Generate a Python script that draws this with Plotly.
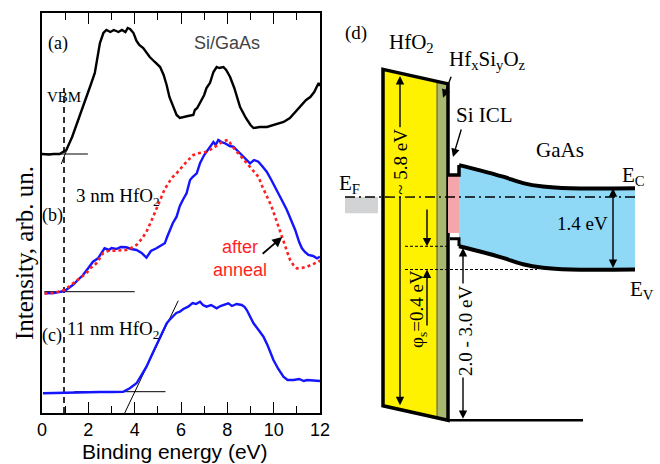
import plotly.graph_objects as go

# ---------------- data: panels (a)-(c) ----------------
energy_a = [0, 0.3, 0.5, 0.76, 0.9, 1.05, 1.3, 1.62, 1.91, 2.1, 2.28, 2.4, 2.5, 2.65, 2.78, 2.95, 3.1, 3.3,
            3.45, 3.6, 3.7, 3.8, 3.95, 4.08, 4.2, 4.37, 4.51, 4.65, 4.87, 5.1, 5.25, 5.38, 5.5, 5.66, 5.81,
            5.95, 6.1, 6.3, 6.53, 6.6, 6.7, 6.82, 7.0, 7.1, 7.25, 7.4, 7.54, 7.65, 7.83, 7.95, 8.12, 8.3,
            8.55, 8.8, 9.0, 9.13, 9.4, 9.71, 10.0, 10.2, 10.43, 10.7, 11.0, 11.2, 11.4, 11.58, 11.75, 11.94, 12.0]
intensity_a = [259, 258.5, 259, 259, 261, 263, 276, 296, 316, 328, 340, 355, 370, 380, 383, 381, 383, 381,
               383, 381, 385, 384, 380, 372, 368, 365, 360, 356, 351, 346, 338, 328, 316, 306, 298,
               295, 296, 297, 298, 303, 305, 310, 318, 325, 330, 341, 346, 345, 346, 343, 336, 325,
               306, 295, 288, 285, 286, 286, 288, 290, 291, 295, 303, 308, 313, 316, 321, 330, 327]

energy_b = [0.11, 0.5, 0.97, 1.15, 1.33, 1.55, 1.77, 2.0, 2.2, 2.42, 2.55, 2.7, 2.9, 3.0, 3.21, 3.4, 3.64,
            3.85, 4.08, 4.3, 4.51, 4.7, 4.94, 5.1, 5.3, 5.4, 5.52, 5.65, 5.81, 5.95, 6.1, 6.24, 6.39, 6.5,
            6.68, 6.82, 7.0, 7.1, 7.25, 7.4, 7.5, 7.61, 7.75, 7.9, 8.1, 8.26, 8.45, 8.62, 8.8, 8.98, 9.15,
            9.34, 9.5, 9.7, 9.9, 10.14, 10.35, 10.57, 10.75, 10.93, 11.1, 11.22, 11.35, 11.5, 11.7, 11.87, 12.0]
intensity_b = [119.7, 120, 122, 125, 128, 133, 138, 145, 151.3, 154.7, 160, 164.7, 163, 165, 164, 166, 165.7,
               164, 163, 160, 155.3, 162, 164.7, 167, 169.7, 176, 183, 190, 196.3, 207, 214, 219.7, 233, 236,
               239.7, 249.7, 258, 261, 266.3, 271, 268, 273, 271, 269.7, 267, 266.3, 262, 258, 253, 249.7, 253,
               251.3, 247, 241.3, 233, 223, 213, 203, 193, 183, 171, 164.7, 161, 158, 157, 154.7, 156.3]

energy_b_anneal = [0.11, 0.5, 0.97, 1.2, 1.48, 1.7, 1.91, 2.1, 2.35, 2.5, 2.63, 2.85, 3.06, 3.3, 3.64, 3.85,
                   4.08, 4.3, 4.51, 4.7, 4.87, 5.0, 5.16, 5.3, 5.45, 5.6, 5.81, 6.0, 6.24, 6.53, 6.8, 7.1, 7.4,
                   7.68, 7.85, 8.04, 8.2, 8.41, 8.6, 8.84, 9.1, 9.34, 9.5, 9.7, 9.9, 10.06, 10.25, 10.43, 10.6,
                   10.71, 10.85, 11.0, 11.2, 11.44, 11.7, 11.94, 12.0]
intensity_b_anneal = [119.5, 120, 123, 127, 131.3, 136, 139.7, 145, 149.7, 155, 159.7, 162, 162.3, 163, 163, 165,
                      168, 174, 181.3, 191, 199.7, 208, 216.3, 224, 229.7, 235, 239.7, 245, 251.3, 258, 260, 261.3,
                      265, 269.7, 272, 273, 267, 261.3, 256, 249.7, 243, 236.3, 227, 216.3, 207, 196.3, 183, 169.7,
                      160, 153, 148, 144.7, 145, 146.3, 149, 151.3, 153]

energy_c = [0.04, 0.5, 1.0, 1.5, 2.0, 2.5, 3.0, 3.5, 3.79, 3.95, 4.08, 4.3, 4.51, 4.7, 4.94, 5.15, 5.38, 5.5,
            5.66, 5.8, 5.95, 6.1, 6.31, 6.5, 6.65, 6.82, 6.95, 7.1, 7.3, 7.54, 7.7, 7.85, 8.04, 8.2, 8.4, 8.62,
            8.75, 8.84, 9.0, 9.13, 9.35, 9.56, 9.75, 9.99, 10.2, 10.42, 10.6, 10.86, 11.1, 11.3, 11.44, 11.7,
            11.94, 12.0]
intensity_c = [19.7, 20, 20.5, 20.5, 21, 21, 21, 21.3, 24.7, 27, 29.7, 38, 46.3, 56, 68, 79, 89.7, 93,
               96.3, 100, 101.3, 104, 106.3, 110, 109, 111.3, 108, 106.3, 108, 104.7, 107, 108, 109.7, 107, 109, 108,
               106, 103, 96, 89.7, 83, 76.3, 67, 53, 44, 36.3, 33, 33, 34, 32, 33, 32.5, 32, 32]

# extrapolation / baseline lines
base_a_x, base_a_y = [0, 1.98], [259, 259]
slope_a_x, slope_a_y = [0.83, 1.6], [249, 294]
base_b_x, base_b_y = [0.1, 4.0], [121.3, 121.3]
base_c_x, base_c_y = [1.4, 5.33], [21.3, 21.3]
slope_c_x, slope_c_y = [3.57, 5.88], [0, 112.3]
vbm_x, vbm_y = [0.95, 0.95], [0, 325]

x_ticks = [0, 2, 4, 6, 8, 10, 12]

# ---------------- data: band diagram (d), energies in eV vs E_F ----------------
hfo2_gap = 5.8
hfo2_cb = [2.2, 1.95]          # HfO2 CB at left / right edge
gaas_gap = 1.4
phi_s = 0.4
ec_bulk = 0.15                  # E_C - E_F in bulk GaAs
si_icl_cb, si_icl_vb = 0.38, -0.62
gaas_x = [129, 150, 173, 193, 213, 240, 305]
gaas_bend = [0.40, 0.31, 0.20, 0.09, 0.03, 0.0, 0.0]

SERIF = "Liberation Serif, Times New Roman, serif"
SANS = "Liberation Sans, Arial, sans-serif"
BLUE = "#1414ff"
RED = "#ff1f1f"

fig = go.Figure()

# ---- left panel traces
thin = dict(color="black", width=1)
fig.add_trace(go.Scatter(x=base_a_x, y=base_a_y, mode="lines", line=thin, xaxis="x", yaxis="y"))
fig.add_trace(go.Scatter(x=slope_a_x, y=slope_a_y, mode="lines", line=thin))
fig.add_trace(go.Scatter(x=base_b_x, y=base_b_y, mode="lines", line=thin))
fig.add_trace(go.Scatter(x=base_c_x, y=base_c_y, mode="lines", line=thin))
fig.add_trace(go.Scatter(x=slope_c_x, y=slope_c_y, mode="lines", line=thin))
fig.add_trace(go.Scatter(x=vbm_x, y=vbm_y, mode="lines", line=dict(color="black", width=1.6, dash="6px,4px")))
fig.add_trace(go.Scatter(x=energy_a, y=intensity_a, mode="lines", line=dict(color="black", width=2.4)))
fig.add_trace(go.Scatter(x=energy_b, y=intensity_b, mode="lines", line=dict(color=BLUE, width=2.4)))
fig.add_trace(go.Scatter(x=energy_b_anneal, y=intensity_b_anneal, mode="lines",
                         line=dict(color=RED, width=2.6, dash="dot")))
fig.add_trace(go.Scatter(x=energy_c, y=intensity_c, mode="lines", line=dict(color=BLUE, width=2.4)))

# ---- band diagram: GaAs bands
gaas_cb = [ec_bulk + b for b in gaas_bend]
gaas_vb = [e - gaas_gap for e in gaas_cb]
fig.add_trace(go.Scatter(x=gaas_x, y=gaas_vb, mode="lines", line=dict(color="black", width=4, shape="spline"),
                         xaxis="x2", yaxis="y2"))
fig.add_trace(go.Scatter(x=gaas_x, y=gaas_cb, mode="lines", line=dict(color="black", width=4, shape="spline"),
                         fill="tonexty", fillcolor="#8fd8f6", xaxis="x2", yaxis="y2"))

# ---- band diagram shapes
x_l, x_m, x_r = 53, 107, 118
cb_l, cb_r = hfo2_cb
vb_l, vb_r = cb_l - hfo2_gap, cb_r - hfo2_gap
frac = (x_m - x_l) / (x_r - x_l)
cb_m = cb_l + (cb_r - cb_l) * frac
vb_m = vb_l + (vb_r - vb_l) * frac
S = dict(xref="x2", yref="y2", layer="above")
shapes = [
    dict(type="path", path=f"M {x_l},{vb_l} L {x_l},{cb_l} L {x_r},{cb_r} L {x_r},{vb_r} Z",
         fillcolor="#fff200", line=dict(width=0), **S),
    dict(type="path", path=f"M {x_m},{vb_m} L {x_m},{cb_m} L {x_r},{cb_r} L {x_r},{vb_r} Z",
         fillcolor="#a9b86f", line=dict(width=0), **S),
    dict(type="line", x0=x_m, x1=x_m, y0=vb_m, y1=cb_m, line=dict(color="#555", width=1), **S),
    dict(type="path", path=f"M {x_l},{vb_l} L {x_l},{cb_l} L {x_r},{cb_r} L {x_r},{vb_r} Z",
         line=dict(color="black", width=3.5), **S),
    dict(type="rect", x0=x_r, x1=gaas_x[0], y0=si_icl_vb, y1=si_icl_cb, fillcolor="#f5a6aa",
         line=dict(width=0), **S),
    dict(type="path", path=f"M {x_r},{si_icl_cb} L {gaas_x[0]},{si_icl_cb} L {gaas_x[0]},{gaas_cb[0]}",
         line=dict(color="black", width=3.5), **S),
    dict(type="path", path=f"M {x_r + 2},{si_icl_vb - 0.1} L {gaas_x[0]},{si_icl_vb - 0.1} L {gaas_x[0]},{gaas_vb[0]}",
         line=dict(color="black", width=3), **S),
    dict(type="line", x0=x_r, x1=253, y0=vb_r, y1=vb_r, line=dict(color="black", width=2.5), **S),
    dict(type="line", x0=75, x1=x_r, y0=gaas_vb[0], y1=gaas_vb[0], line=dict(color="black", width=1, dash="3px,2px"), **S),
    dict(type="line", x0=75, x1=207, y0=gaas_vb[-1], y1=gaas_vb[-1], line=dict(color="black", width=1, dash="3px,2px"), **S),
    dict(type="rect", x0=15, x1=48, y0=-0.28, y1=0, fillcolor="#d2d3d5", line=dict(width=0), **S),
    dict(type="line", x0=15, x1=305, y0=0, y1=0, line=dict(color="black", width=1.4, dash="10px,4px,2px,4px"), **S),
]

ann = []
def arrow(x, y, ax, ay, ref=("x2", "y2"), both=False, w=1.4, head=2, size=1.2):
    ann.append(dict(x=x, y=y, ax=ax, ay=ay, xref=ref[0], yref=ref[1], axref=ref[0], ayref=ref[1],
                    text="", showarrow=True, arrowhead=head, arrowsize=size, arrowwidth=w, arrowcolor="black",
                    arrowside="end+start" if both else "end", startarrowhead=head, startarrowsize=size))

def text(x, y, t, size, font=SERIF, color="black", ref=("x2", "y2"), angle=0, bg=None):
    d = dict(x=x, y=y, xref=ref[0], yref=ref[1], text=t, showarrow=False, textangle=angle,
             xanchor="center", yanchor="middle", font=dict(family=font, size=size, color=color))
    if bg:
        d.update(bgcolor=bg, borderpad=1)
    ann.append(d)

# band diagram arrows
arrow(70, cb_l + (cb_r - cb_l) * (17 / 65) - 0.05, 70, vb_l + (vb_r - vb_l) * (17 / 65) + 0.05, both=True)
arrow(97, gaas_vb[0], 97, -0.19)
arrow(97, gaas_vb[-1], 97, -2.24)
arrow(133, gaas_vb[0] - 0.03, 133, vb_r, both=True)
arrow(283, ec_bulk, 283, ec_bulk - gaas_gap, both=True)
arrow(113, 1.71, 121.7, 2.10)
arrow(123, 0.69, 131.7, 1.19)

text(70.5, 0.60, "~ 5.8 eV", 19, angle=-90, bg="#fff200")
text(136, -2.31, "2.0 - 3.0 eV", 19, angle=-90, bg="white")
text(88, -1.93, "φ<sub>s</sub>=0.4 eV", 19, angle=-90)
text(252, -0.45, "1.4 eV", 19)
text(26, 2.83, "(d)", 19)
text(81, 2.66, "HfO<sub>2</sub>", 21)
text(157, 2.36, "Hf<sub>x</sub>Si<sub>y</sub>O<sub>z</sub>", 21)
text(154, 1.41, "Si ICL", 21)
text(230, 0.81, "GaAs", 21)
text(303, 0.36, "E<sub>C</sub>", 21)
text(19, 0.22, "E<sub>F</sub>", 21)
text(312, -1.61, "E<sub>V</sub>", 21)

# left panel texts
L = ("x", "y")
text(0.67, 370, "(a)", 18, ref=L)
text(7.99, 370, "Si/GaAs", 18, font=SANS, color="#444444", ref=L)
text(0.97, 316, "VBM", 15, ref=L)
text(3.3, 216, "3 nm HfO<sub>2</sub>", 19, ref=L)
text(0.45, 198, "(b)", 18, ref=L)
text(8.55, 155, "after<br>anneal", 18, font=SANS, color=RED, ref=L)
text(0.45, 78, "(c)", 18, ref=L)
text(3.1, 83, "11 nm HfO<sub>2</sub>", 19, ref=L)
arrow(10.37, 176, 9.46, 158, ref=L, w=1.8, size=1.1)

text(25 / 660, 1 - 253 / 464, "Intensity, arb. un.", 25, ref=("paper", "paper"), angle=-90)
text(175 / 660, 1 - 451 / 464, "Binding energy (eV)", 21, font=SANS, ref=("paper", "paper"))

fig.update_layout(
    width=660, height=464, margin=dict(l=0, r=0, t=0, b=0),
    paper_bgcolor="white", plot_bgcolor="rgba(0,0,0,0)", showlegend=False,
    shapes=shapes, annotations=ann,
    xaxis=dict(domain=[42 / 660, 320 / 660], range=[0, 12], tickvals=x_ticks, ticks="inside", ticklen=11,
               tickwidth=1.4, tickcolor="black", showline=True, linewidth=1.6, linecolor="black",
               mirror="allticks", showgrid=False, zeroline=False, anchor="y", automargin=False,
               tickfont=dict(family=SANS, size=18, color="black"),
               minor=dict(ticks="inside", ticklen=7, dtick=1, tickwidth=1.4, tickcolor="black", showgrid=False)),
    yaxis=dict(domain=[1 - 413 / 464, 1 - 13 / 464], range=[0, 400], showticklabels=False, ticks="",
               showline=True, linewidth=1.6, linecolor="black", mirror=True, showgrid=False, zeroline=False,
               anchor="x", automargin=False),
    xaxis2=dict(domain=[0.5, 1], range=[0, 330], visible=False, anchor="y2"),
    yaxis2=dict(domain=[0, 1], range=[(197 - 464) / 58, 197 / 58], visible=False, anchor="x2"),
)

fig.write_html("out.html", config={"displayModeBar": False},
               post_script="document.body.style.margin='0';document.body.style.padding='0';")
